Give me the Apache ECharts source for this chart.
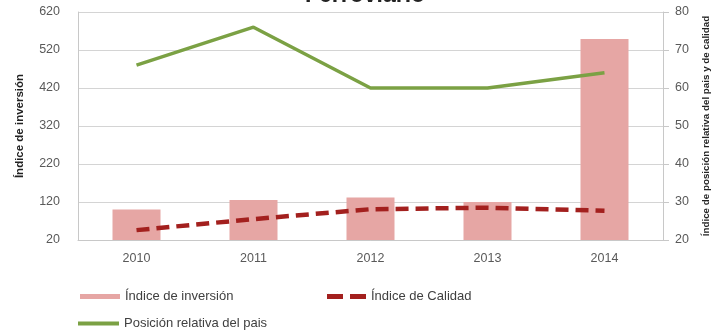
<!DOCTYPE html>
<html>
<head>
<meta charset="utf-8">
<script src="https://cdn.jsdelivr.net/npm/echarts@6/dist/echarts.min.js"></script>
<style>html,body{margin:0;padding:0;background:#fff;}#c{width:714px;height:334px;}</style>
</head>
<body>
<div id="c"></div>
<script>
var categories = ['2010', '2011', '2012', '2013', '2014'];
var inversion = [100, 125, 132, 120, 549];
var calidad = [22.6, 25.5, 28.1, 28.5, 27.7];
var posicion = [66, 76, 60, 60, 64];
var leftTicks = {min: 20, max: 620, interval: 100};
var rightTicks = {min: 20, max: 80, interval: 10};

var FONT = 'Liberation Sans';
var chart = echarts.init(document.getElementById('c'), null, {renderer: 'canvas'});
chart.setOption({
  animation: false,
  backgroundColor: '#fff',
  title: {
    text: 'Ferroviario', left: 360, textAlign: 'center', top: -21,
    textStyle: {fontFamily: FONT, fontSize: 23, fontWeight: 'bold', color: '#222'}
  },
  grid: {left: 78, right: 51, top: 12, bottom: 94, containLabel: false, outerBoundsMode: 'none'},
  legend: [
    {data: [{name: 'Índice de inversión', icon: 'rect'}], left: 75, top: 285, itemWidth: 40, itemHeight: 5,
     textStyle: {fontFamily: FONT, fontSize: 13, color: '#404040'}},
    {data: [{name: 'Índice de Calidad', icon: 'path://M0,0h16v5h-16z M23,0h16v5h-16z'}], left: 322, top: 285, itemWidth: 39, itemHeight: 5,
     textStyle: {fontFamily: FONT, fontSize: 13, color: '#404040'}},
    {data: [{name: 'Posición relativa del pais', icon: 'rect'}], left: 73, top: 312, itemWidth: 41, itemHeight: 4,
     textStyle: {fontFamily: FONT, fontSize: 13, color: '#404040'}}
  ],
  xAxis: {
    type: 'category', data: categories, boundaryGap: true,
    axisLine: {show: true, lineStyle: {color: '#c8c8c8', width: 1}},
    axisTick: {show: false},
    axisLabel: {margin: 12, fontFamily: FONT, fontSize: 12.5, color: '#595959'}
  },
  yAxis: [
    {
      type: 'value', min: leftTicks.min, max: leftTicks.max, interval: leftTicks.interval,
      name: 'Índice de inversión', nameLocation: 'middle', nameGap: 52, nameRotate: 90,
      nameTextStyle: {fontFamily: FONT, fontSize: 11.5, fontWeight: 'bold', color: '#222'},
      axisLine: {show: true, lineStyle: {color: '#c8c8c8'}},
      axisTick: {show: false},
      splitLine: {show: true, lineStyle: {color: '#d4d4d4', width: 1.2}},
      axisLabel: {margin: 18, fontFamily: FONT, fontSize: 12.5, color: '#595959'}
    },
    {
      type: 'value', min: rightTicks.min, max: rightTicks.max, interval: rightTicks.interval,
      position: 'right',
      name: 'Índice de posición relativa del pais y de calidad', nameLocation: 'middle', nameGap: 38, nameRotate: 90,
      nameTextStyle: {fontFamily: FONT, fontSize: 9.8, fontWeight: 'bold', color: '#222'},
      axisLine: {show: true, lineStyle: {color: '#c8c8c8'}},
      axisTick: {show: true, length: 6, lineStyle: {color: '#c8c8c8'}},
      splitLine: {show: false},
      axisLabel: {margin: 12, fontFamily: FONT, fontSize: 12.5, color: '#595959'}
    }
  ],
  series: [
    {
      name: 'Índice de inversión', type: 'bar', data: inversion, yAxisIndex: 0,
      barWidth: 48, itemStyle: {color: '#E6A6A4'}, z: 1
    },
    {
      name: 'Índice de Calidad', type: 'line', data: calidad, yAxisIndex: 1,
      symbol: 'none', z: 3,
      itemStyle: {color: '#A3201E'},
      lineStyle: {color: '#A3201E', width: 4.5, type: [13, 7]}
    },
    {
      name: 'Posición relativa del pais', type: 'line', data: posicion, yAxisIndex: 1,
      symbol: 'none', z: 4,
      itemStyle: {color: '#7BA144'},
      lineStyle: {color: '#7BA144', width: 3.5}
    }
  ]
});
</script>
</body>
</html>
